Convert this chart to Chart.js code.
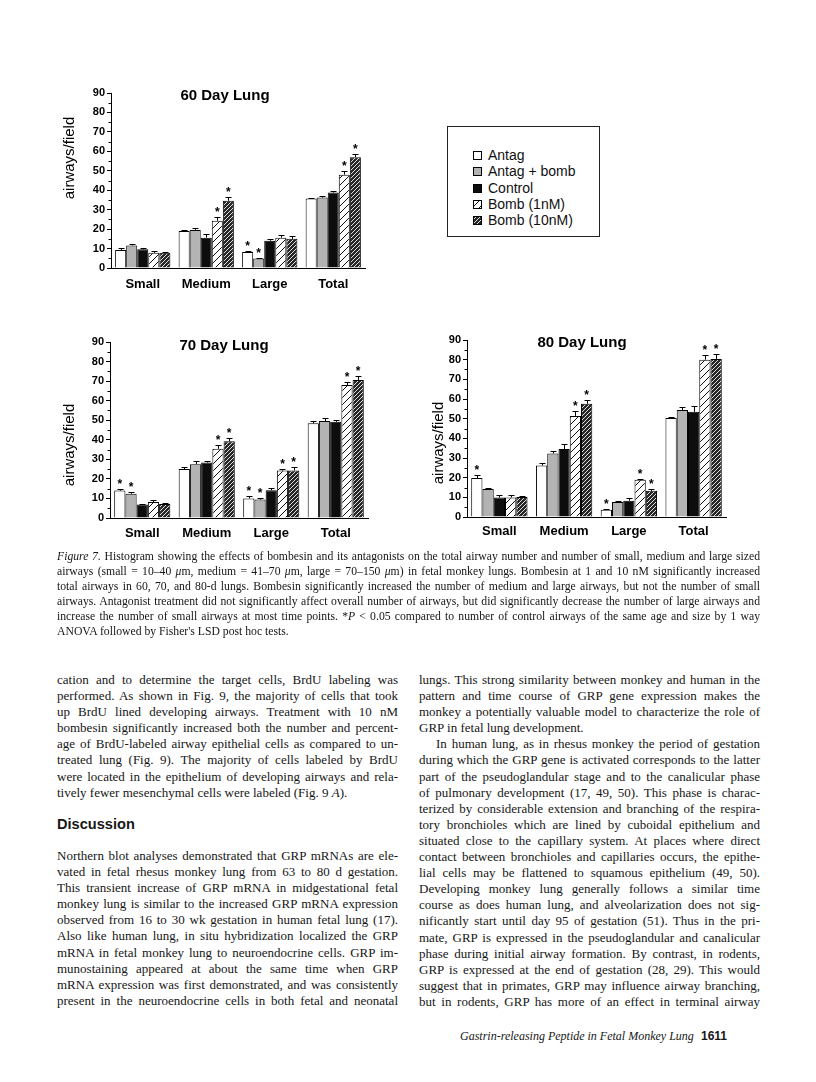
<!DOCTYPE html>
<html>
<head>
<meta charset="utf-8">
<script src="https://cdn.jsdelivr.net/npm/chart.js@4.4.1/dist/chart.umd.min.js"></script>
<style>
body { margin: 0; background: #fff; }
#page { position: relative; width: 816px; height: 1082px; overflow: hidden; background: #fff; color: #161616; }
canvas.chart { position: absolute; }
#legend { position: absolute; left: 447px; top: 126px; width: 153px; height: 111px; border: 1px solid #222; box-sizing: border-box; }
#legend .item { position: absolute; left: 25px; height: 16px; font: 14px "Liberation Sans", Arial, sans-serif; color: #111; white-space: nowrap; }
#legend canvas { position: absolute; left: 0; top: 4px; }
#legend span { position: absolute; left: 15px; top: 0; line-height: 16px; }
.txt { position: absolute; font-family: "Liberation Serif", "Times New Roman", serif; }
.txt div { text-align: justify; text-align-last: justify; }
.txt div.last { text-align-last: left; }
#caption { left: 57px; top: 549px; width: 703px; font-size: 11.7px; line-height: 15px; }
.col { width: 341px; font-size: 13px; line-height: 16.1px; }
#colA1 { left: 57px; top: 672px; }
#colA2 { left: 57px; top: 848px; }
#colB { left: 419px; top: 672px; }
#heading { position: absolute; left: 57px; top: 816px; font: bold 14.6px "Liberation Sans", Arial, sans-serif; color: #161616; }
.indent { text-indent: 17px; }
#footer { position: absolute; left: 460px; top: 1029px; font: italic 12px "Liberation Serif", serif; white-space: nowrap; }
#pageno { position: absolute; left: 701px; top: 1029px; font: bold 12px "Liberation Sans", Arial, sans-serif; }
</style>
</head>
<body>
<div id="page">
  <canvas id="c60" class="chart" width="350" height="230" style="left:30px;top:75px"></canvas>
  <canvas id="c70" class="chart" width="350" height="235" style="left:30px;top:325px"></canvas>
  <canvas id="c80" class="chart" width="340" height="235" style="left:400px;top:322px"></canvas>
  <div id="legend"></div>

  <div id="caption" class="txt">
    <div><i>Figure 7.</i> Histogram showing the effects of bombesin and its antagonists on the total airway number and number of small, medium and large sized</div>
    <div>airways (small = 10–40 <i>μ</i>m, medium = 41–70 <i>μ</i>m, large = 70–150 <i>μ</i>m) in fetal monkey lungs. Bombesin at 1 and 10 nM significantly increased</div>
    <div>total airways in 60, 70, and 80-d lungs. Bombesin significantly increased the number of medium and large airways, but not the number of small</div>
    <div>airways. Antagonist treatment did not significantly affect overall number of airways, but did significantly decrease the number of large airways and</div>
    <div>increase the number of small airways at most time points. *<i>P</i> &lt; 0.05 compared to number of control airways of the same age and size by 1 way</div>
    <div class="last">ANOVA followed by Fisher's LSD post hoc tests.</div>
  </div>

  <div id="colA1" class="txt col">
    <div>cation and to determine the target cells, BrdU labeling was</div>
    <div>performed. As shown in Fig. 9, the majority of cells that took</div>
    <div>up BrdU lined developing airways. Treatment with 10 nM</div>
    <div>bombesin significantly increased both the number and percent-</div>
    <div>age of BrdU-labeled airway epithelial cells as compared to un-</div>
    <div>treated lung (Fig. 9). The majority of cells labeled by BrdU</div>
    <div>were located in the epithelium of developing airways and rela-</div>
    <div class="last">tively fewer mesenchymal cells were labeled (Fig. 9 <i>A</i>).</div>
  </div>
  <div id="heading">Discussion</div>
  <div id="colA2" class="txt col">
    <div>Northern blot analyses demonstrated that GRP mRNAs are ele-</div>
    <div>vated in fetal rhesus monkey lung from 63 to 80 d gestation.</div>
    <div>This transient increase of GRP mRNA in midgestational fetal</div>
    <div>monkey lung is similar to the increased GRP mRNA expression</div>
    <div>observed from 16 to 30 wk gestation in human fetal lung (17).</div>
    <div>Also like human lung, in situ hybridization localized the GRP</div>
    <div>mRNA in fetal monkey lung to neuroendocrine cells. GRP im-</div>
    <div>munostaining appeared at about the same time when GRP</div>
    <div>mRNA expression was first demonstrated, and was consistently</div>
    <div>present in the neuroendocrine cells in both fetal and neonatal</div>
  </div>
  <div id="colB" class="txt col">
    <div>lungs. This strong similarity between monkey and human in the</div>
    <div>pattern and time course of GRP gene expression makes the</div>
    <div>monkey a potentially valuable model to characterize the role of</div>
    <div class="last">GRP in fetal lung development.</div>
    <div class="indent">In human lung, as in rhesus monkey the period of gestation</div>
    <div>during which the GRP gene is activated corresponds to the latter</div>
    <div>part of the pseudoglandular stage and to the canalicular phase</div>
    <div>of pulmonary development (17, 49, 50). This phase is charac-</div>
    <div>terized by considerable extension and branching of the respira-</div>
    <div>tory bronchioles which are lined by cuboidal epithelium and</div>
    <div>situated close to the capillary system. At places where direct</div>
    <div>contact between bronchioles and capillaries occurs, the epithe-</div>
    <div>lial cells may be flattened to squamous epithelium (49, 50).</div>
    <div>Developing monkey lung generally follows a similar time</div>
    <div>course as does human lung, and alveolarization does not sig-</div>
    <div>nificantly start until day 95 of gestation (51). Thus in the pri-</div>
    <div>mate, GRP is expressed in the pseudoglandular and canalicular</div>
    <div>phase during initial airway formation. By contrast, in rodents,</div>
    <div>GRP is expressed at the end of gestation (28, 29). This would</div>
    <div>suggest that in primates, GRP may influence airway branching,</div>
    <div>but in rodents, GRP has more of an effect in terminal airway</div>
  </div>
  <div id="footer">Gastrin-releasing Peptide in Fetal Monkey Lung</div>
  <div id="pageno">1611</div>
</div>

<script>
const categories = ['Small', 'Medium', 'Large', 'Total'];
const seriesNames = ['Antag', 'Antag + bomb', 'Control', 'Bomb (1nM)', 'Bomb (10nM)'];
const yTickMax = 90;
const yTickStep = 10;
const yAxisTitle = 'airways/field';

// rows follow seriesNames, columns follow categories
const day60Values = [
    [9.2, 19, 8.2, 35.8],
    [11.6, 19.6, 4.9, 36.2],
    [9.6, 15.6, 14, 38.8],
    [7.8, 24.3, 15.6, 48],
    [7.8, 34.6, 15, 57]
];
const day60Errors = [
    [1, 0.8, 0.4, 0.4],
    [1, 1, 0.5, 0.8],
    [0.5, 1.8, 1, 1],
    [0.8, 1.8, 1.4, 1.8],
    [0.4, 1.8, 1.3, 1.8]
];
const day60Stars = [
    [0, 0, 1, 0],
    [0, 0, 1, 0],
    [0, 0, 0, 0],
    [0, 1, 0, 1],
    [0, 1, 0, 1]
];

const day70Values = [
    [14, 25, 10, 48.4],
    [12.4, 27.5, 9.4, 49.6],
    [6.9, 28.4, 14.2, 49.2],
    [8.2, 35.4, 24.3, 68],
    [7.2, 39.2, 24.3, 70.6]
];
const day70Errors = [
    [0.9, 1.2, 1, 1.3],
    [1, 1.5, 1, 1.3],
    [0.3, 0.5, 0.9, 0.9],
    [0.9, 2, 0.9, 1.4],
    [0.3, 1.8, 1.8, 2.2]
];
const day70Stars = [
    [1, 0, 1, 0],
    [1, 0, 1, 0],
    [0, 0, 0, 0],
    [0, 1, 1, 1],
    [0, 1, 1, 1]
];

const day80Values = [
    [19.8, 26.2, 3.7, 50.3],
    [14.3, 32.3, 7.6, 54.4],
    [9.9, 34.6, 8.3, 53.5],
    [9.9, 51.4, 18.9, 80],
    [10.2, 57.6, 13.3, 80.4]
];
const day80Errors = [
    [1.5, 1.3, 0.5, 0.8],
    [0.5, 1.5, 0.5, 1.3],
    [1.1, 2.4, 1.2, 2.8],
    [1.5, 2.6, 0.6, 2.6],
    [0.4, 1.8, 1, 2.3]
];
const day80Stars = [
    [1, 0, 1, 0],
    [0, 0, 0, 0],
    [0, 0, 0, 0],
    [0, 1, 1, 1],
    [0, 1, 1, 1]
];

const SANS = '"Liberation Sans", Arial, Helvetica, sans-serif';

function hatch(bg, fg, size, lw) {
    const c = document.createElement('canvas');
    c.width = c.height = size;
    const g = c.getContext('2d');
    g.fillStyle = bg;
    g.fillRect(0, 0, size, size);
    g.strokeStyle = fg;
    g.lineWidth = lw;
    g.beginPath();
    g.moveTo(-1, size + 1); g.lineTo(size + 1, -1);
    g.moveTo(-size / 2 - 1, size / 2 + 1); g.lineTo(size / 2 + 1, -size / 2 - 1);
    g.moveTo(size / 2 - 1, size * 1.5 + 1); g.lineTo(size * 1.5 + 1, size / 2 - 1);
    g.stroke();
    return g.createPattern(c, 'repeat');
}

function seriesFills() {
    return [
        '#ffffff',
        '#b3b3b3',
        '#0d0d0d',
        hatch('#ffffff', '#111111', 7, 1),
        hatch('#262626', '#f4f4f4', 4, 0.9)
    ];
}

const decorPlugin = {
    id: 'decor',
    afterDraw(chart, args, opts) {
        const ctx = chart.ctx;
        const area = chart.chartArea;
        const y = chart.scales.y;
        ctx.save();
        ctx.strokeStyle = '#000';
        ctx.lineWidth = 1;
        for (let v = yTickStep / 2; v < yTickMax; v += yTickStep) {
            const py = Math.round(y.getPixelForValue(v)) + 0.5;
            ctx.beginPath();
            ctx.moveTo(area.left - 2.5, py);
            ctx.lineTo(area.left, py);
            ctx.stroke();
        }
        ctx.fillStyle = '#000';
        ctx.textAlign = 'center';
        ctx.textBaseline = 'middle';
        ctx.font = 'bold 15px ' + SANS;
        ctx.fillText(opts.title, opts.titleX, opts.titleY);
        ctx.translate(opts.labelX, opts.labelY);
        ctx.rotate(-Math.PI / 2);
        ctx.font = '15px ' + SANS;
        ctx.fillText(yAxisTitle, 0, 0);
        ctx.restore();
    }
};

const errorBarPlugin = {
    id: 'errorBars',
    afterDatasetsDraw(chart) {
        const ctx = chart.ctx;
        const y = chart.scales.y;
        ctx.save();
        ctx.strokeStyle = '#000';
        ctx.fillStyle = '#000';
        ctx.lineWidth = 1;
        ctx.font = 'bold 12px ' + SANS;
        ctx.textAlign = 'center';
        ctx.textBaseline = 'alphabetic';
        chart.data.datasets.forEach((ds, i) => {
            const meta = chart.getDatasetMeta(i);
            meta.data.forEach((bar, j) => {
                const top = Math.round(y.getPixelForValue(ds.data[j] + ds.errors[j])) + 0.5;
                const x = Math.round(bar.x) + 0.5;
                ctx.beginPath();
                ctx.moveTo(x, bar.y);
                ctx.lineTo(x, top);
                ctx.moveTo(x - 3, top);
                ctx.lineTo(x + 3, top);
                ctx.stroke();
                if (ds.stars[j]) {
                    ctx.fillText('*', bar.x, top - 1.5);
                }
            });
        });
        ctx.restore();
    }
};

function makeChart(id, values, errors, stars, layout) {
    const fills = seriesFills();
    const datasets = seriesNames.map((name, i) => ({
        label: name,
        data: values[i],
        errors: errors[i],
        stars: stars[i],
        backgroundColor: fills[i],
        borderColor: '#000',
        borderWidth: 1,
        barPercentage: 1,
        categoryPercentage: 0.87
    }));

    return new Chart(document.getElementById(id), {
        type: 'bar',
        data: { labels: categories, datasets: datasets },
        options: {
            responsive: false,
            animation: false,
            events: [],
            devicePixelRatio: 1,
            layout: { padding: { top: layout.top, right: layout.right, left: 0, bottom: 0 } },
            plugins: {
                legend: { display: false },
                tooltip: { enabled: false },
                decor: layout.decor
            },
            scales: {
                x: {
                    grid: { display: false, drawTicks: false },
                    border: { display: true, color: '#000', width: 1 },
                    ticks: { color: '#000', padding: layout.xPad, font: { family: SANS, size: 13, weight: 'bold' } },
                    afterFit: s => { s.height = layout.xHeight; }
                },
                y: {
                    min: 0,
                    max: yTickMax,
                    grid: { display: true, drawOnChartArea: false, drawTicks: true, tickLength: 4, color: '#000', lineWidth: 1 },
                    border: { display: true, color: '#000', width: 1 },
                    ticks: { stepSize: yTickStep, color: '#000', padding: 2, font: { family: SANS, size: 11, weight: 'bold' } },
                    afterFit: s => { s.width = layout.yWidth; }
                }
            }
        },
        plugins: [errorBarPlugin, decorPlugin]
    });
}

makeChart('c60', day60Values, day60Errors, day60Stars, {
    top: 18, right: 15, xHeight: 37, yWidth: 81, xPad: 9,
    decor: { title: '60 Day Lung', titleX: 195, titleY: 21, labelX: 40, labelY: 83 }
});
makeChart('c70', day70Values, day70Errors, day70Stars, {
    top: 17, right: 12, xHeight: 42, yWidth: 80, xPad: 8,
    decor: { title: '70 Day Lung', titleX: 194, titleY: 21, labelX: 40, labelY: 120 }
});
makeChart('c80', day80Values, day80Errors, day80Stars, {
    top: 18, right: 14, xHeight: 40, yWidth: 67, xPad: 7,
    decor: { title: '80 Day Lung', titleX: 182, titleY: 21, labelX: 39, labelY: 121 }
});

// legend box
const legendBox = document.getElementById('legend');
const legendFills = seriesFills();
seriesNames.forEach((name, i) => {
    const item = document.createElement('div');
    item.className = 'item';
    item.style.top = (20 + i * 16.3) + 'px';
    const sw = document.createElement('canvas');
    sw.width = 9; sw.height = 9;
    const g = sw.getContext('2d');
    g.fillStyle = legendFills[i];
    g.fillRect(0, 0, 9, 9);
    g.strokeStyle = '#000';
    g.lineWidth = 1;
    g.strokeRect(0.5, 0.5, 8, 8);
    const label = document.createElement('span');
    label.textContent = name;
    item.appendChild(sw);
    item.appendChild(label);
    legendBox.appendChild(item);
});
</script>
</body>
</html>
